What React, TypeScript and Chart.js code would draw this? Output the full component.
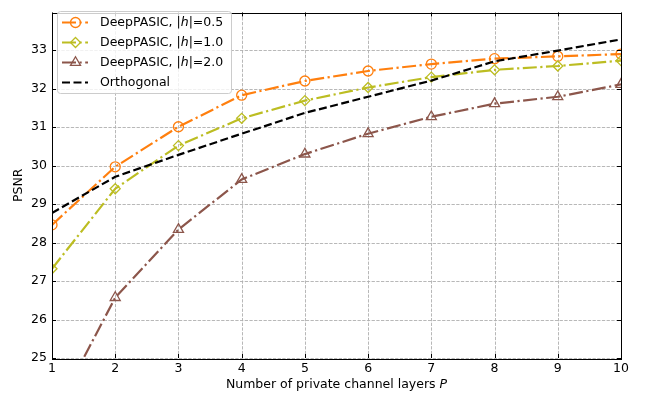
import React, { useEffect, useRef } from "react";
import { Chart, registerables } from "chart.js";

Chart.register(...registerables);

// ---- data ----
const layersP = [1, 2, 3, 4, 5, 6, 7, 8, 9, 10];
const psnrH05 = [28.46, 29.97, 31.01, 31.83, 32.2, 32.46, 32.64, 32.78, 32.84, 32.9];
const psnrH10 = [27.32, 29.4, 30.52, 31.23, 31.69, 32.03, 32.3, 32.49, 32.59, 32.73];
const psnrH20 = [23.43, 26.57, 28.34, 29.64, 30.3, 30.83, 31.27, 31.61, 31.79, 32.11];
const psnrOrth = [28.77, 29.71, 30.28, 30.83, 31.37, 31.79, 32.21, 32.71, 32.99, 33.28];
const yTickValues = [25, 26, 27, 28, 29, 30, 31, 32, 33];
const xTickValues = [1, 2, 3, 4, 5, 6, 7, 8, 9, 10];
const seriesLabels = ["DeepPASIC, |h|=0.5", "DeepPASIC, |h|=1.0", "DeepPASIC, |h|=2.0", "Orthogonal"];
const xTitle = "Number of private channel layers ";
const xTitleItalic = "P";
const yTitle = "PSNR";

const FONT = "DejaVu Sans";
const FS = 12.5;
const DASHDOT = [14, 3.5, 2.2, 3.5];
const DASHED = [8, 3.5];

const styles = [
  { color: "#ff7f0e", dash: DASHDOT, marker: "circle" },
  { color: "#bcbd22", dash: DASHDOT, marker: "diamond" },
  { color: "#8c564b", dash: DASHDOT, marker: "triangle" },
  { color: "#000000", dash: DASHED, marker: "none" },
];

function drawMarker(ctx: CanvasRenderingContext2D, kind: string, x: number, y: number, color: string) {
  if (kind === "none") return;
  ctx.save();
  ctx.setLineDash([]);
  ctx.strokeStyle = color;
  ctx.lineWidth = 1.3;
  ctx.beginPath();
  if (kind === "circle") {
    ctx.arc(x, y, 5, 0, Math.PI * 2);
  } else if (kind === "diamond") {
    ctx.moveTo(x, y - 5);
    ctx.lineTo(x + 5, y);
    ctx.lineTo(x, y + 5);
    ctx.lineTo(x - 5, y);
    ctx.closePath();
  } else if (kind === "triangle") {
    const r = 5.8;
    ctx.moveTo(x, y - r);
    ctx.lineTo(x + r * Math.sin((2 * Math.PI) / 3), y - r * Math.cos((2 * Math.PI) / 3));
    ctx.lineTo(x - r * Math.sin((2 * Math.PI) / 3), y - r * Math.cos((2 * Math.PI) / 3));
    ctx.closePath();
  }
  ctx.stroke();
  ctx.restore();
}

function drawRich(ctx: CanvasRenderingContext2D, text: string, x: number, y: number) {
  const parts: [string, boolean][] = [];
  const idx = text.indexOf("|h|");
  if (idx >= 0) {
    parts.push([text.slice(0, idx + 1), false]);
    parts.push(["h", true]);
    parts.push([text.slice(idx + 2), false]);
  } else parts.push([text, false]);
  let cx = x;
  for (const [t, it] of parts) {
    ctx.font = `${it ? "italic " : ""}${FS}px "${FONT}"`;
    ctx.fillText(t, cx, y);
    cx += ctx.measureText(t).width;
  }
}

const framePlugin = {
  id: "framePlugin",
  beforeDatasetsDraw(chart: any) {
    const { ctx, chartArea: a, scales } = chart;
    const xs = scales.x;
    const ys = scales.y;
    ctx.save();
    ctx.strokeStyle = "#b0b0b0";
    ctx.lineWidth = 0.9;
    ctx.setLineDash([3.3, 1.4]);
    for (const t of xTickValues) {
      const px = Math.round(xs.getPixelForValue(t)) + 0.5;
      ctx.beginPath();
      ctx.moveTo(px, a.top);
      ctx.lineTo(px, a.bottom);
      ctx.stroke();
    }
    for (const t of yTickValues) {
      const py = Math.round(ys.getPixelForValue(t)) + 0.5;
      ctx.beginPath();
      ctx.moveTo(a.left, py);
      ctx.lineTo(a.right, py);
      ctx.stroke();
    }
    ctx.restore();
  },
  afterDatasetsDraw(chart: any) {
    const { ctx, chartArea: a, scales } = chart;
    const xs = scales.x;
    const ys = scales.y;
    ctx.save();
    ctx.setLineDash([]);
    ctx.strokeStyle = "#000";
    ctx.lineWidth = 1;
    ctx.strokeRect(Math.round(a.left) + 0.5, Math.round(a.top) + 0.5, Math.round(a.right - a.left), Math.round(a.bottom - a.top));
    const TL = 4;
    for (const t of xTickValues) {
      const px = Math.round(xs.getPixelForValue(t)) + 0.5;
      ctx.beginPath();
      ctx.moveTo(px, a.bottom);
      ctx.lineTo(px, a.bottom - TL);
      ctx.moveTo(px, a.top);
      ctx.lineTo(px, a.top + TL);
      ctx.stroke();
    }
    for (const t of yTickValues) {
      const py = Math.round(ys.getPixelForValue(t)) + 0.5;
      ctx.beginPath();
      ctx.moveTo(a.left, py);
      ctx.lineTo(a.left + TL, py);
      ctx.moveTo(a.right, py);
      ctx.lineTo(a.right - TL, py);
      ctx.stroke();
    }

    // legend
    const lx = 57.5, ly = 11.5, lw = 174, lh = 82, r = 3;
    ctx.beginPath();
    ctx.moveTo(lx + r, ly);
    ctx.lineTo(lx + lw - r, ly);
    ctx.arcTo(lx + lw, ly, lx + lw, ly + r, r);
    ctx.lineTo(lx + lw, ly + lh - r);
    ctx.arcTo(lx + lw, ly + lh, lx + lw - r, ly + lh, r);
    ctx.lineTo(lx + r, ly + lh);
    ctx.arcTo(lx, ly + lh, lx, ly + lh - r, r);
    ctx.lineTo(lx, ly + r);
    ctx.arcTo(lx, ly, lx + r, ly, r);
    ctx.closePath();
    ctx.fillStyle = "rgba(255,255,255,0.8)";
    ctx.fill();
    ctx.strokeStyle = "#cccccc";
    ctx.lineWidth = 1;
    ctx.stroke();

    seriesLabels.forEach((label, i) => {
      const st = styles[i];
      const yy = 22.5 + i * 20;
      ctx.save();
      ctx.strokeStyle = st.color;
      ctx.lineWidth = 2.2;
      ctx.setLineDash(st.dash);
      ctx.beginPath();
      ctx.moveTo(62, yy);
      ctx.lineTo(88, yy);
      ctx.stroke();
      ctx.restore();
      drawMarker(ctx, st.marker, 75.5, yy, st.color);
      ctx.fillStyle = "#000";
      ctx.textBaseline = "middle";
      ctx.textAlign = "left";
      drawRich(ctx, label, 100, yy);
    });

    // axis titles
    ctx.fillStyle = "#000";
    ctx.textBaseline = "middle";
    ctx.font = `${FS}px "${FONT}"`;
    const w1 = ctx.measureText(xTitle).width;
    ctx.font = `italic ${FS}px "${FONT}"`;
    const w2 = ctx.measureText(xTitleItalic).width;
    const cx = (a.left + a.right) / 2;
    const sx = cx - (w1 + w2) / 2;
    ctx.textAlign = "left";
    ctx.font = `${FS}px "${FONT}"`;
    ctx.fillText(xTitle, sx, 385);
    ctx.font = `italic ${FS}px "${FONT}"`;
    ctx.fillText(xTitleItalic, sx + w1, 385);

    ctx.save();
    ctx.translate(19, (a.top + a.bottom) / 2);
    ctx.rotate(-Math.PI / 2);
    ctx.textAlign = "center";
    ctx.font = `${FS}px "${FONT}"`;
    ctx.fillText(yTitle, 0, 0);
    ctx.restore();
    ctx.restore();
  },
};

export default function App() {
  const ref = useRef<HTMLCanvasElement | null>(null);
  useEffect(() => {
    if (!ref.current) return;
    const series = [psnrH05, psnrH10, psnrH20, psnrOrth];
    const pointStyles = ["circle", "rectRot", "triangle", "circle"];
    const radii = [5, 5, 5.8, 0];
    const orders = [4, 3, 2, 1];
    const datasets = series.map((vals, i) => ({
      label: seriesLabels[i],
      data: layersP.map((p, j) => ({ x: p, y: vals[j] })),
      borderColor: styles[i].color,
      borderWidth: 2.2,
      borderDash: styles[i].dash,
      pointStyle: pointStyles[i],
      pointRadius: radii[i],
      pointHoverRadius: radii[i],
      pointBorderWidth: 1.3,
      pointBorderColor: styles[i].color,
      pointBackgroundColor: "rgba(0,0,0,0)",
      fill: false,
      tension: 0,
      clip: 0,
      order: orders[i],
    }));
    const chart = new Chart(ref.current, {
      type: "line",
      data: { datasets } as any,
      options: {
        animation: false,
        responsive: false,
        devicePixelRatio: 1,
        layout: { padding: { top: 5, right: 27, left: 0, bottom: 0 } },
        plugins: { legend: { display: false }, tooltip: { enabled: false } },
        scales: {
          x: {
            type: "linear",
            min: 1,
            max: 10,
            grid: { display: false, drawTicks: false },
            border: { display: false },
            afterBuildTicks: (s: any) => {
              s.ticks = xTickValues.map((v) => ({ value: v }));
            },
            afterFit: (s: any) => {
              s.height = 35;
            },
            ticks: { color: "#000", font: { family: FONT, size: FS }, padding: 3, maxRotation: 0, autoSkip: false },
          },
          y: {
            type: "linear",
            min: 25,
            max: 33.98,
            grid: { display: false, drawTicks: false },
            border: { display: false },
            afterBuildTicks: (s: any) => {
              s.ticks = yTickValues.map((v) => ({ value: v }));
            },
            afterFit: (s: any) => {
              s.width = 52;
            },
            ticks: { color: "#000", font: { family: FONT, size: FS }, padding: 5, autoSkip: false },
          },
        },
      } as any,
      plugins: [framePlugin],
    });
    return () => chart.destroy();
  }, []);
  return (
    <div style={{ position: "fixed", left: 0, top: 0, width: 648, height: 393, background: "#fff" }}>
      <canvas ref={ref} width={648} height={393} style={{ display: "block" }} />
    </div>
  );
}
